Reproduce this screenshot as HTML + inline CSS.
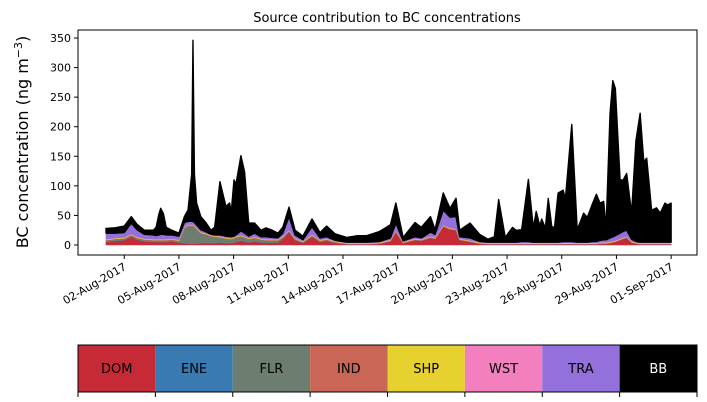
<!DOCTYPE html>
<html><head><meta charset="utf-8"><style>
html,body{margin:0;padding:0;background:#fff;}
svg{display:block;font-family:"DejaVu Sans","Liberation Sans",sans-serif;}
</style></head><body>
<svg id="chart" width="707" height="402" viewBox="0 0 707 402">
<text x="387" y="22" font-size="13" text-anchor="middle">Source contribution to BC concentrations</text>
<text transform="translate(28,142) rotate(-90)" font-size="16" text-anchor="middle">BC concentration (ng m<tspan dy="-6" font-size="11">−3</tspan><tspan dy="6">)</tspan></text>
<g id="plot"></g>
<g id="cbar"></g>
</svg>
<script>
const categories = ["DOM","ENE","FLR","IND","SHP","WST","TRA","BB"];
const colors = ["#c72a37","#3a7ab3","#6d7e70","#c96656","#e6d12f","#f47fbf","#9370db","#000000"];
const days = [0,0.5,1.0,1.39,1.7,2.1,2.6,2.75,2.9,3.0,3.15,3.3,3.6,4.0,4.3,4.5,4.7,4.77,4.85,4.97,5.2,5.5,5.76,5.96,6.25,6.58,6.78,6.87,7.02,7.13,7.4,7.6,7.83,8.15,8.5,8.78,9.05,9.43,9.7,10.04,10.37,10.8,11.3,11.74,12.1,12.56,13.2,13.8,14.3,15.0,15.6,15.9,16.3,16.95,17.3,17.8,18.05,18.5,18.87,19.2,19.4,19.97,20.5,20.95,21.3,21.54,21.9,22.3,22.5,22.8,23.17,23.44,23.6,23.8,23.9,24.1,24.26,24.45,24.6,24.8,25.08,25.2,25.55,25.85,26.2,26.4,26.7,26.9,27.1,27.3,27.43,27.65,27.8,27.94,28.2,28.37,28.56,28.83,29.07,29.3,29.5,29.66,29.93,30.2,30.4,30.66,30.8,31.0];
const DOM = [5,7,8,14,9,6,5,5,5,5,5,5,6,4,3,2,2,2,2,2,3,3,3,3,4,3,3,3,4,5,7,6,4,6,4,4,4,4,10,22,8,3,14,5,7,3,1,1,1,2,6,22,3,8,7,12,10,31,26,25,8,5,2,1,1,1,1,1,1,1,1,1,1,1,1,1,1,1,1,1,1,1,1,1,1,1,1,1,2,2,2,3,4,5,8,10,12,4,2,1,1,1,1,1,1,1,1,1];
const ENE = [0.5,0.5,0.5,0.5,0.5,0.5,0.5,0.5,0.5,0.5,0.5,0.5,0.5,0.5,0.5,0.5,0.5,0.5,0.5,0.5,0.5,0.5,0.5,0.5,0.5,0.5,0.5,0.5,0.5,0.5,0.5,0.5,0.5,0.5,0.5,0.5,0.5,0.5,0.5,0.5,0.5,0.5,0.5,0.5,0.5,0.5,0.3,0.3,0.3,0.3,0.5,0.5,0.3,0.5,0.5,0.5,0.5,0.5,0.5,0.5,0.5,0.5,0.3,0.3,0.3,0.3,0.3,0.3,0.3,0.3,0.3,0.3,0.3,0.3,0.3,0.3,0.3,0.3,0.3,0.3,0.3,0.3,0.3,0.3,0.3,0.3,0.3,0.3,0.3,0.3,0.3,0.3,0.3,0.3,0.5,0.5,0.5,0.3,0.3,0.3,0.3,0.3,0.3,0.3,0.3,0.3,0.3,0.3];
const FLR = [2,2,2,2,2,2,2,2,2,2,2,2,2,2,25,30,30,30,28,24,16,14,11,10,8,7,6,6,6,7,7,6,5,5,4,3,3,3,2,1,1,1,1,1,1,1,0,0,0,0,0,0,0,0,0,0,0,0,0,0,0,0,0,0,0,0,0,0,0,0,0,0,0,0,0,0,0,0,0,0,0,0,0,0,0,0,0,0,0,0,0,0,0,0,0,0,0,0,0,0,0,0,0,0,0,0,0,0];
const IND = [1,1,1,1,1,1,1,1,1,1,1,1,1,1,1,1,1,1,1,1,1,1,1,1,1,1,1,1,1,1,1,1,1,1,1,1,1,1,1,1,1,1,1,1,1,1,1,1,1,1,1,1,1,1,1,1,1,1,1,1,1,1,1,1,1,1,1,1,1,1,1,1,1,1,1,1,1,1,1,1,1,1,1,1,1,1,1,1,1,1,1,1,1,1,1,1,1,1,1,1,1,1,1,1,1,1,1,1];
const SHP = [1,1,1,1,1,1,1,1,1,1,1,1,1,1,1,1,1,1,1,1,1,1,1,1,1,1,1,1,1,1,1,1,1,1,1,1,1,1,1,1,1,1,1,1,1,1,1,1,1,1,1,1,1,1,1,1,1,1,1,1,1,1,1,1,1,1,1,1,1,1,1,1,1,1,1,1,1,1,1,1,1,1,1,1,1,1,1,1,1,1,1,1,1,1,1,1,1,1,1,1,1,1,1,1,1,1,1,1];
const WST = [0.5,0.5,0.5,0.5,0.5,0.5,0.5,0.5,0.5,0.5,0.5,0.5,0.5,0.5,0.5,0.5,0.5,0.5,0.5,0.5,0.5,0.5,0.5,0.5,0.5,0.5,0.5,0.5,0.5,0.5,0.5,0.5,0.5,0.5,0.5,0.5,0.5,0.5,0.5,0.5,0.5,0.5,0.5,0.5,0.5,0.5,0.5,0.5,0.5,0.5,0.5,0.5,0.5,0.5,0.5,0.5,0.5,0.5,0.5,0.5,0.5,0.5,0.5,0.5,0.5,0.5,0.5,0.5,0.5,0.5,0.5,0.5,0.5,0.5,0.5,0.5,0.5,0.5,0.5,0.5,0.5,0.5,0.5,0.5,0.5,0.5,0.5,0.5,0.5,0.5,0.5,0.5,0.5,0.5,0.5,0.5,0.5,0.5,0.5,0.5,0.5,0.5,0.5,0.5,0.5,0.5,0.5,0.5];
const TRA = [10,8,8,18,12,7,7,6,7,8,8,7,6,6,7,5,5,5,5,5,4,2,1,1,2,2,2,2,2,2,7,5,3,6,3,4,3,2,5,22,5,2,13,3,3,1,1,1,1,1,3,12,1,3,2,7,5,25,18,20,3,4,1,1,1,1,1,1,1,2,2,1,1,1,1,1,1,1,1,1,2,2,2,1,1,1,2,2,3,4,4,6,7,8,9,10,10,3,1,1,1,1,1,1,1,1,1,1];
const BB = [8,9,11,11,9,7,8,14,35,44,35,13,8,5,10,19,80,306,82,37,22,15,7,13,90,50,57,41,95,86,127,104,22,17,11,15,13,8,10,16,8,6,13,9,18,11,8,11,11,17,22,34,6,24,18,26,8,29,15,31,11,25,12,5,9,72,8,25,20,20,105,24,52,27,39,24,74,27,24,83,87,72,198,21,49,42,65,80,63,65,20,211,264,249,90,87,96,44,171,218,136,142,54,58,49,66,63,66];
const yTicks = [0,50,100,150,200,250,300,350];
const xTickDays = [1,4,7,10,13,16,19,22,25,28,31];
const xTickLabels = ["02-Aug-2017","05-Aug-2017","08-Aug-2017","11-Aug-2017","14-Aug-2017","17-Aug-2017","20-Aug-2017","23-Aug-2017","26-Aug-2017","29-Aug-2017","01-Sep-2017"];

const NS="http://www.w3.org/2000/svg";
const L=78,R=697,T=30,B=255;
const X=d=>106+d*18.23;
const Y=v=>245-v*(207/350);
function mk(tag,attrs,parent){const e=document.createElementNS(NS,tag);for(const k in attrs)e.setAttribute(k,attrs[k]);parent.appendChild(e);return e;}
const plot=document.getElementById('plot');
const series=[DOM,ENE,FLR,IND,SHP,WST,TRA,BB];
let base=days.map(()=>0);
series.forEach((s,i)=>{
  const top=base.map((b,j)=>b+s[j]);
  let d="M"+days.map((t,j)=>X(t).toFixed(2)+","+Y(top[j]).toFixed(2)).join("L");
  for(let j=days.length-1;j>=0;j--)d+="L"+X(days[j]).toFixed(2)+","+Y(base[j]).toFixed(2);
  d+="Z";
  const p=mk('path',{d:d,fill:colors[i],stroke:colors[i],'stroke-width':i===7?1.4:0.6,'stroke-linejoin':'round'},plot);
  
  
  base=top;
});
const frame=mk('rect',{x:L,y:T,width:R-L,height:B-T,fill:'none',stroke:'#000','stroke-width':1},plot);


yTicks.forEach(v=>{
  const y=Y(v);
  const tk=mk('line',{x1:L-4,x2:L,y1:y,y2:y,stroke:'#000'},plot);
  
  
  const t=mk('text',{x:L-7,y:y+4,'font-size':11,'text-anchor':'end'},plot);
  t.textContent=v;
  
  
});
xTickDays.forEach((d,i)=>{
  const x=X(d);
  const tk=mk('line',{x1:x,x2:x,y1:B,y2:B+4,stroke:'#000'},plot);
  
  
  const t=mk('text',{x:x+3,y:B+14,'font-size':11,'text-anchor':'end',transform:`rotate(-30 ${x+3} ${B+14})`},plot);
  t.textContent=xTickLabels[i];
  
  
});
const cb=document.getElementById('cbar');
const cw=(R-L)/categories.length;
categories.forEach((c,i)=>{
  const r=mk('rect',{x:L+i*cw,y:345,width:cw,height:47,fill:colors[i]},cb);
  
  
  const t=mk('text',{x:L+(i+0.5)*cw,y:373,'font-size':13,'text-anchor':'middle',fill:c==="BB"?'#fff':'#000'},cb);
  t.textContent=c;
  
  
});
for(let i=0;i<=categories.length;i++){
  const tk=mk('line',{x1:L+i*cw,x2:L+i*cw,y1:392,y2:397,stroke:'#000'},cb);
  
  
}
const cf=mk('rect',{x:L,y:345,width:R-L,height:47,fill:'none',stroke:'#000'},cb);


</script>
</body></html>
